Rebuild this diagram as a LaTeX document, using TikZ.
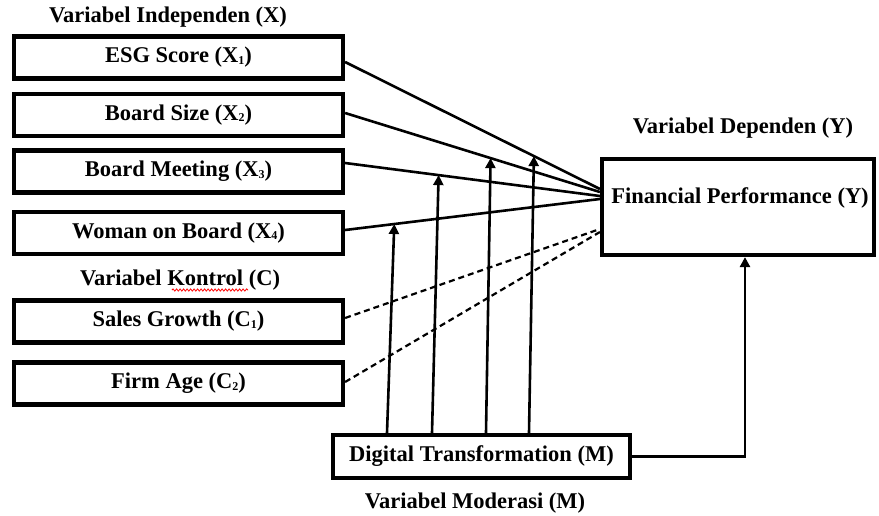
\documentclass[tikz,border=0pt]{standalone}
\usepackage{fontspec}
\setmainfont{Liberation Serif}
\usetikzlibrary{arrows.meta,calc,decorations.pathmorphing}
\newcommand{\smallsub}[1]{\raisebox{-1.5pt}{\fontsize{12}{13}\selectfont #1}}
\begin{document}
\begin{tikzpicture}[x=1pt,y=-1pt,
  txt/.style={font=\bfseries\fontsize{22.5}{25}\selectfont},
  varbox/.style={txt,draw,line width=4.2pt,minimum width=329pt,minimum height=42pt,inner sep=0pt},
  lbl/.style={txt,inner sep=0pt},
  link/.style={line width=2.6pt},
  dlink/.style={line width=2.2pt,dash pattern=on 6pt off 4pt},
  modarrow/.style={line width=2.6pt,-{Triangle[length=10pt,width=10pt]}}
]
\useasboundingbox (0,0) rectangle (879,515);

% labels
\node[lbl] (lx) at (168,17) {Variabel Independen (X)};
\node[lbl] (lc) at (180,280) {Variabel Kontrol (C)};
\node[lbl] (ly) at (743,128) {Variabel Dependen (Y)};
\node[lbl] (lm) at (475,503) {Variabel Moderasi (M)};
\draw[red,line width=0.8pt,decorate,decoration={snake,amplitude=1.1pt,segment length=3.5pt}] (172,290) -- (248,290);

% boxes
\node[varbox] (x1) at (178.5,57.5) {ESG Score (X\smallsub{1})};
\node[varbox] (x2) at (178.5,115) {Board Size (X\smallsub{2})};
\node[varbox] (x3) at (178.5,171.5) {Board Meeting (X\smallsub{3})};
\node[varbox] (x4) at (178.5,233) {Woman on Board (X\smallsub{4})};
\node[varbox] (c1) at (178.5,321.5) {Sales Growth (C\smallsub{1})};
\node[varbox] (c2) at (178.5,383.5) {Firm Age (C\smallsub{2})};
\node[varbox,minimum width=272pt,minimum height=96pt] (fp) at (738,207) {};
\node[lbl] (fpt) at (740,198) {Financial Performance (Y)};
\node[varbox,minimum width=297pt,minimum height=43pt] (dt) at (481.5,456.5) {Digital Transformation (M)};

% start and end points
\coordinate (s1) at ($(x1.east)+(0,4.5)$);
\coordinate (s2) at ($(x2.east)+(0,-2)$);
\coordinate (s3) at ($(x3.east)+(0,-8.5)$);
\coordinate (s4) at ($(x4.east)+(0,-3)$);
\coordinate (s5) at ($(c1.east)+(0,-3.5)$);
\coordinate (s6) at ($(c2.east)+(0,-1.5)$);
\coordinate (e1) at ($(fp.west)+(0,-18)$);
\coordinate (e2) at ($(fp.west)+(0,-15)$);
\coordinate (e3) at ($(fp.west)+(0,-11)$);
\coordinate (e4) at ($(fp.west)+(0,-8)$);
\coordinate (e5) at ($(fp.west)+(0,22)$);
\coordinate (e6) at ($(fp.west)+(0,25)$);

% direct effects
\draw[link] (s1) -- (e1) coordinate[pos=0.741] (t4);
\draw[link] (s2) -- (e2) coordinate[pos=0.571] (t3);
\draw[link] (s3) -- (e3) coordinate[pos=0.367] (t2);
\draw[link] (s4) -- (e4) coordinate[pos=0.193] (t1);
\draw[dlink] (s5) -- (e5);
\draw[dlink] (s6) -- (e6);

% moderation
\coordinate (b1) at (387,0 |- dt.north);
\coordinate (b2) at (432,0 |- dt.north);
\coordinate (b3) at (486,0 |- dt.north);
\coordinate (b4) at (529,0 |- dt.north);
\draw[modarrow] (b1) -- (t1);
\draw[modarrow] (b2) -- (t2);
\draw[modarrow] (b3) -- (t3);
\draw[modarrow] (b4) -- (t4);
\draw[link,-{Triangle[length=10pt,width=10pt]}] (dt.east) -| ($(fp.south)+(7,0)$);
\end{tikzpicture}
\end{document}
